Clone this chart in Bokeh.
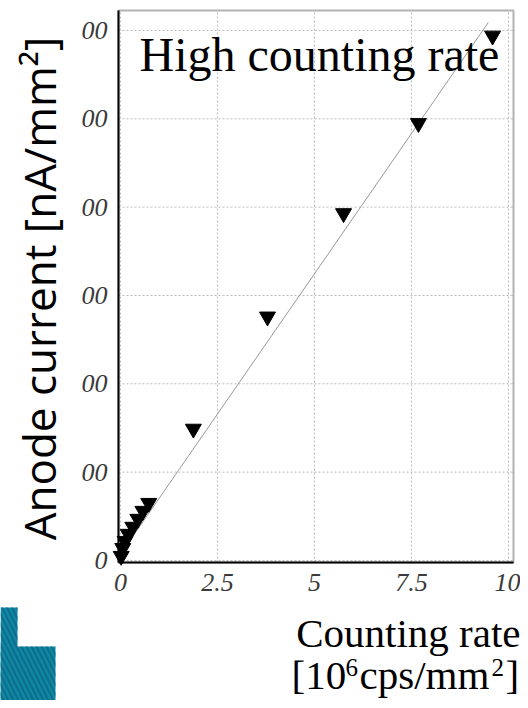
import math
from bokeh.plotting import figure
from bokeh.models import Label, BoxAnnotation, FixedTicker, Range1d
from bokeh.embed import file_html
from bokeh.resources import INLINE

# ---- data ----
rate = [0.02, 0.06, 0.12, 0.20, 0.32, 0.45, 0.58, 0.73, 1.88, 3.79, 5.75, 7.68, 9.59]
current = [5, 14, 22, 30, 38, 47, 56, 65, 149, 276, 393, 495, 594]
fit_rate = [0.0, 9.48]
fit_current = [7, 609]
x_ticks = [0, 2.5, 5, 7.5, 10]
x_tick_labels = ["0", "2.5", "5", "7.5", "10"]
y_ticks = [0, 100, 200, 300, 400, 500, 600]
y_tick_labels = ["0", "00", "00", "00", "00", "00", "00"]

# ---- layout (page pixels) ----
W, H = 520, 700
PX_L, PX_R, PY_T, PY_B = 118, 513, 10, 562      # plot box
BOX_X = (-0.05, 10.13)
BOX_Y = (-2.3, 622.6)
kx = (PX_R - PX_L) / (BOX_X[1] - BOX_X[0])
ky = (PY_B - PY_T) / (BOX_Y[1] - BOX_Y[0])
BASE_SHIFT = 0.37   # label anchor correction, in font-size units


def dx(px):
    return BOX_X[0] + (px - PX_L) / kx


def dy(py):
    return BOX_Y[0] + (PY_B - py) / ky


p = figure(width=W, height=H, output_backend="svg", toolbar_location=None,
           x_range=Range1d(dx(0), dx(W)), y_range=Range1d(dy(H), dy(0)),
           min_border=0, min_border_left=0, min_border_right=0,
           min_border_top=0, min_border_bottom=0)
p.outline_line_color = None
p.background_fill_color = "white"
p.border_fill_color = "white"
p.grid.visible = False

# axes fixed at the edges of the plot box
p.xaxis.fixed_location = BOX_Y[0]
p.yaxis.fixed_location = BOX_X[0]
p.xaxis.bounds = BOX_X
p.yaxis.bounds = BOX_Y
p.xaxis.ticker = FixedTicker(ticks=x_ticks)
p.yaxis.ticker = FixedTicker(ticks=y_ticks)
p.xaxis.major_label_overrides = {t: l for t, l in zip(x_ticks, x_tick_labels)}
p.yaxis.major_label_overrides = {t: l for t, l in zip(y_ticks, y_tick_labels)}
for ax in (p.xaxis, p.yaxis):
    ax.axis_line_color = "black"
    ax.axis_line_width = 2
    ax.major_tick_line_color = None
    ax.minor_tick_line_color = None
    ax.major_label_text_font = "Liberation Serif"
    ax.major_label_text_font_style = "italic"
    ax.major_label_text_font_size = "26px"
    ax.major_label_text_color = "#3a3a3a"
p.xaxis.major_label_standoff = 5
p.yaxis.major_label_standoff = 5

# dotted grid at the tick positions, inside the plot box
p.segment(x0=x_ticks, y0=[BOX_Y[0]] * len(x_ticks), x1=x_ticks, y1=[BOX_Y[1]] * len(x_ticks),
          line_color="#bbbbbb", line_dash="2 2", line_width=1)
p.segment(x0=[BOX_X[0]] * len(y_ticks), y0=y_ticks, x1=[BOX_X[1]] * len(y_ticks), y1=y_ticks,
          line_color="#bbbbbb", line_dash="2 2", line_width=1)

# plot box outline
p.add_layout(BoxAnnotation(left=BOX_X[0], right=BOX_X[1], bottom=BOX_Y[0], top=BOX_Y[1],
                           fill_color=None, fill_alpha=0, line_color="black", line_width=2))

p.line(fit_rate, fit_current, line_color="#999999", line_width=1)
p.scatter(rate, current, marker="inverted_triangle", size=16,
          fill_color="black", line_color="black")

serif = "Liberation Serif"


def text_at(px, py, txt, size, font=serif, align="left"):
    p.add_layout(Label(x=dx(px), y=dy(py - BASE_SHIFT * size), text=txt,
                       text_font=font, text_font_size=f"{size}px", text_color="black",
                       text_align=align, text_baseline="alphabetic"))


text_at(139, 72, "High counting rate", 48)

p.add_layout(Label(x=dx(38), y=dy(288), text="Anode current [nA/mm²]",
                   angle=math.pi / 2, text_font="Open Sans", text_font_size="44px",
                   text_color="black", text_align="center", text_baseline="alphabetic"))

text_at(520, 648, "Counting rate", 41, align="right")
# second line: [10^6 cps/mm^2] with real superscripts
for px, py, txt, size in [(291, 690, "[10", 41), (345, 676, "6", 25),
                          (359, 690, "cps/mm", 41), (491, 676, "2", 25),
                          (505, 690, "]", 41)]:
    text_at(px, py, txt, size)

# decorative logo at bottom-left
for l, r, t in [(0, 17, 607), (0, 55, 646)]:
    p.add_layout(BoxAnnotation(left=dx(l), right=dx(r), top=dy(t), bottom=dy(H),
                               fill_color="#1186a3", fill_alpha=1.0, line_color=None,
                               hatch_pattern="\\", hatch_color="#0a6883",
                               hatch_scale=10, hatch_weight=2, hatch_alpha=0.8))

open("out.html", "w").write(file_html(p, INLINE))
